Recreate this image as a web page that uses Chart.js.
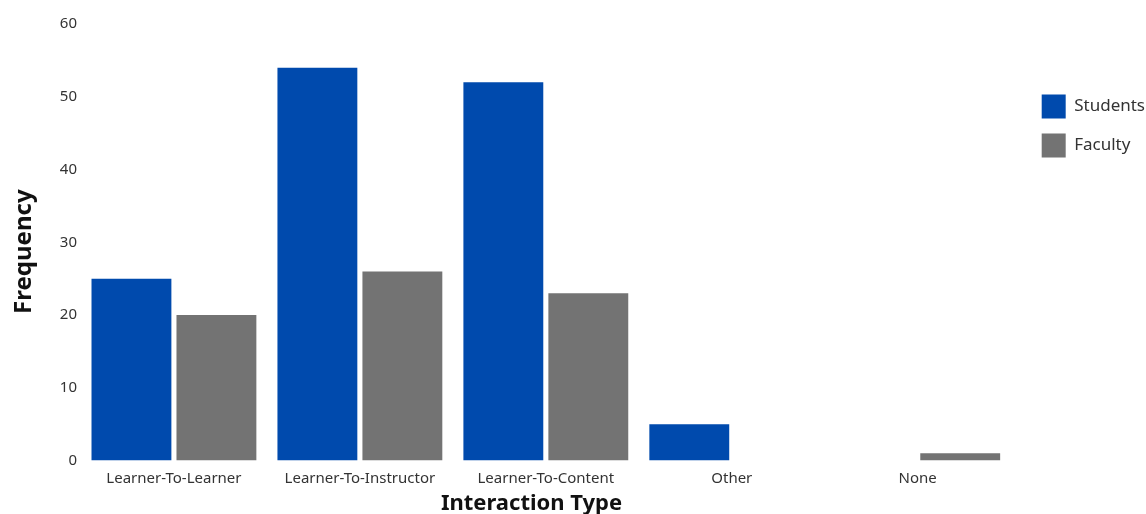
<!DOCTYPE html>
<html>
<head>
<meta charset="utf-8">
<script src="https://cdn.jsdelivr.net/npm/chart.js@4.4.1/dist/chart.umd.min.js"></script>
<style>
  html, body { margin: 0; padding: 0; background: #fff; }
  #wrap { width: 1146px; height: 514px; }
</style>
</head>
<body>
<div id="wrap"><canvas id="chart" width="1146" height="514"></canvas></div>
<script>
// Interaction types and counts per group
const categories = ['Learner-To-Learner', 'Learner-To-Instructor', 'Learner-To-Content', 'Other', 'None'];
const students = [25, 54, 52, 5, 0];
const faculty = [20, 26, 23, 0, 1];
const yTicks = [0, 10, 20, 30, 40, 50, 60];

const fontFamily = '"Noto Sans", "Open Sans", sans-serif';

new Chart(document.getElementById('chart').getContext('2d'), {
    type: 'bar',
    data: {
        labels: categories,
        datasets: [
            {
                label: 'Students',
                data: students,
                backgroundColor: '#004aad',
                borderWidth: 0,
                categoryPercentage: 0.914,
                barPercentage: 0.94
            },
            {
                label: 'Faculty',
                data: faculty,
                backgroundColor: '#737373',
                borderWidth: 0,
                categoryPercentage: 0.914,
                barPercentage: 0.94
            }
        ]
    },
    options: {
        responsive: false,
        animation: false,
        layout: { padding: { top: 24, right: -9, bottom: -3, left: 10 } },
        scales: {
            x: {
                grid: { display: false, drawTicks: false },
                border: { display: false },
                ticks: {
                    color: '#333',
                    padding: 9,
                    font: { family: fontFamily, size: 15 }
                },
                title: {
                    display: true,
                    // trailing spaces nudge the centred title a little to the left
                    text: 'Interaction Type\u00a0\u00a0\u00a0\u00a0\u00a0',
                    color: '#111',
                    padding: { top: -6, bottom: 0 },
                    font: { family: fontFamily, size: 22, weight: 'bold' }
                }
            },
            y: {
                min: 0,
                max: 60,
                afterBuildTicks: axis => { axis.ticks = yTicks.map(v => ({ value: v })); },
                grid: { display: false, drawTicks: false },
                border: { display: false },
                ticks: {
                    color: '#333',
                    padding: 4,
                    font: { family: fontFamily, size: 15 }
                },
                title: {
                    display: true,
                    // trailing spaces push the rotated title slightly downwards
                    text: 'Frequency\u00a0\u00a0\u00a0',
                    color: '#111',
                    padding: { top: 0, bottom: 17 },
                    font: { family: fontFamily, size: 24, weight: 'bold' }
                }
            },
            // empty spacer between the plot and the legend
            gap: {
                type: 'linear',
                position: 'right',
                display: true,
                grid: { display: false, drawTicks: false },
                border: { display: false },
                ticks: { display: false },
                afterFit: scale => { scale.width = 16; }
            }
        },
        plugins: {
            tooltip: { enabled: false },
            legend: {
                position: 'right',
                align: 'start',
                title: {
                    display: true,
                    text: ' ',
                    padding: { top: 41, bottom: 0 }
                },
                labels: {
                    boxWidth: 24,
                    boxHeight: 24,
                    padding: 15,
                    color: '#333',
                    font: { family: fontFamily, size: 17 }
                }
            }
        }
    }
});
</script>
</body>
</html>
